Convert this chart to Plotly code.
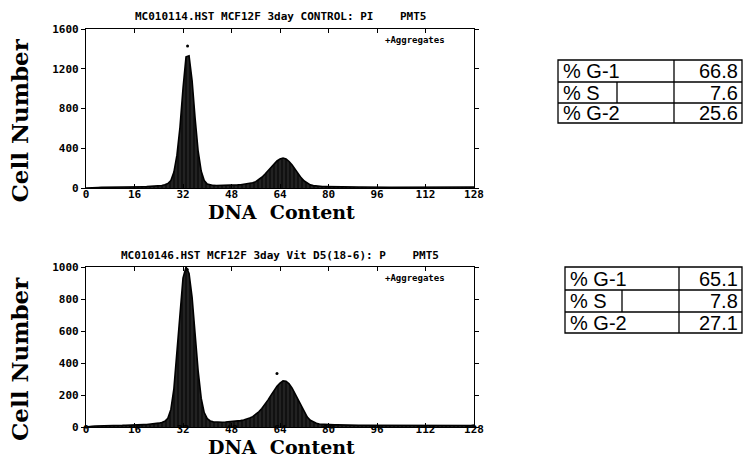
import plotly.graph_objects as go

# ---------------- data ----------------
channels = list(range(0, 129))

counts_control = [
    0, 3, 4, 5, 5, 6, 6, 7, 7, 8,
    8, 8, 9, 9, 10, 10, 11, 11, 12, 13,
    14, 15, 16, 18, 21, 25, 32, 45, 75, 160,
    330, 610, 1000, 1320, 1330, 1080, 700, 370, 170, 75,
    40, 30, 26, 25, 25, 25, 26, 27, 28, 29,
    31, 33, 36, 40, 45, 52, 64, 82, 108, 138,
    172, 207, 242, 272, 292, 302, 292, 267, 232, 187,
    142, 102, 70, 47, 32, 24, 19, 16, 15, 14,
    13, 13, 12, 12, 12, 11, 11, 11, 10, 10,
    10, 10, 9, 9, 9, 9, 9, 8, 8, 8,
    8, 8, 8, 8, 7, 7, 7, 7, 7, 7,
    7, 7, 6, 6, 6, 6, 6, 6, 6, 6,
    6, 6, 6, 6, 6, 6, 6, 8, 10,
]

counts_vitd = [
    0, 4, 5, 6, 6, 7, 7, 8, 8, 9,
    9, 10, 10, 11, 11, 12, 12, 13, 14, 15,
    16, 17, 19, 21, 24, 28, 36, 55, 110, 240,
    470, 740, 930, 1000, 960, 810, 580, 350, 180, 90,
    52, 38, 32, 30, 30, 30, 31, 32, 33, 35,
    37, 40, 44, 49, 56, 65, 78, 95, 116, 140,
    168, 198, 228, 254, 274, 288, 286, 270, 243, 207,
    166, 125, 90, 62, 42, 30, 23, 19, 17, 15,
    14, 14, 13, 13, 12, 12, 12, 11, 11, 11,
    10, 10, 10, 10, 10, 9, 9, 9, 9, 9,
    9, 8, 8, 8, 8, 8, 8, 8, 8, 8,
    7, 7, 7, 7, 7, 7, 7, 7, 7, 7,
    7, 7, 7, 7, 7, 7, 7, 9, 12,
]

outlier_x_control = [33.5]
outlier_y_control = [1430]
outlier_x_vitd = [33.4, 63.0]
outlier_y_vitd = [985, 335]

x_ticks = [0, 16, 32, 48, 64, 80, 96, 112, 128]
y_ticks_control = [0, 400, 800, 1200, 1600]
y_ticks_vitd = [0, 200, 400, 600, 800, 1000]

title_control = "MC010114.HST MCF12F 3day CONTROL: PI    PMT5"
title_vitd = "MC010146.HST MCF12F 3day Vit D5(18-6): P    PMT5"

phase_labels = ["% G-1", "% S", "% G-2"]
phase_control = ["66.8", "7.6", "25.6"]
phase_vitd = ["65.1", "7.8", "27.1"]

# ---------------- layout helpers ----------------
W, H = 744, 459


def px(x):
    return x / W


def py(y):
    return 1 - y / H


fig = go.Figure()

mono = "DejaVu Sans Mono"
serif = "DejaVu Serif"

for counts, ox, oy, xa, ya in [
    (counts_control, outlier_x_control, outlier_y_control, "x", "y"),
    (counts_vitd, outlier_x_vitd, outlier_y_vitd, "x2", "y2"),
]:
    fig.add_trace(go.Scatter(
        x=channels, y=counts, xaxis=xa, yaxis=ya,
        mode="lines", line=dict(color="black", width=1.6),
        fill="tozeroy", fillcolor="#111111",
        fillpattern=dict(shape="|", fgcolor="#9a9a9a", bgcolor="#111111",
                         size=4, solidity=0.12),
        showlegend=False, hoverinfo="skip",
    ))
    fig.add_trace(go.Scatter(
        x=ox, y=oy, xaxis=xa, yaxis=ya, mode="markers",
        marker=dict(color="black", size=3), showlegend=False,
    ))

axis_common = dict(
    showgrid=False, zeroline=False, showline=True, linecolor="black",
    linewidth=1.2, mirror="ticks", ticklen=4,
    tickcolor="black", tickwidth=1, automargin=False,
    tickfont=dict(family=mono, size=11, color="black", weight="bold"),
)

x_dom = [px(86), px(474)]
fig.update_layout(
    width=W, height=H,
    margin=dict(l=0, r=0, t=0, b=0, autoexpand=False),
    paper_bgcolor="white", plot_bgcolor="white",
    xaxis=dict(domain=x_dom, range=[0, 128], tickvals=x_ticks, anchor="y",
               ticks="inside", ticklabelstandoff=-4, **axis_common),
    yaxis=dict(domain=[py(188), py(29)], range=[0, 1600],
               tickvals=y_ticks_control, anchor="x", ticks="outside",
               **axis_common),
    xaxis2=dict(domain=x_dom, range=[0, 128], tickvals=x_ticks, anchor="y2",
                ticks="inside", ticklabelstandoff=-8, **axis_common),
    yaxis2=dict(domain=[py(427), py(267)], range=[0, 1000],
                tickvals=y_ticks_vitd, anchor="x2", ticks="outside",
                **axis_common),
)

annotations = []
shapes = []

# chart titles, axis titles, aggregates label
for title, ty, axtop, axbot, xt_bottom in [
    (title_control, 17, 29, 188, 224),
    (title_vitd, 255, 267, 427, 459),
]:
    annotations.append(dict(
        text=title, x=px(280), y=py(ty), xref="paper", yref="paper",
        showarrow=False, xanchor="center", yanchor="middle",
        font=dict(family=mono, size=11, color="black", weight="bold"),
    ))
    annotations.append(dict(
        text="+Aggregates", x=px(447), y=py(axtop + 11), xref="paper",
        yref="paper", showarrow=False, xanchor="right", yanchor="middle",
        font=dict(family=mono, size=9, color="black", weight="bold"),
    ))
    annotations.append(dict(
        text="Cell Number", x=px(19), y=py((axtop + axbot) / 2 + 12),
        xref="paper", yref="paper", showarrow=False, textangle=-90,
        xanchor="center", yanchor="middle",
        font=dict(family=serif, size=23, color="black", weight="bold"),
    ))
    annotations.append(dict(
        text="DNA  Content", x=px(281), y=py(xt_bottom),
        xref="paper", yref="paper", showarrow=False,
        xanchor="center", yanchor="bottom", borderpad=0,
        font=dict(family=serif, size=19, color="black", weight="bold"),
    ))

# tables
table_font = dict(family="Liberation Sans", size=20, color="black")
for labels, values, left, top, rows, coldiv, sdiv in [
    (phase_labels, phase_control, 558, 60, [60, 82, 103, 123], 674, 617),
    (phase_labels, phase_vitd, 565, 267, [267, 290, 312, 333], 679, 622),
]:
    right = 742
    line = dict(color="black", width=1.3)
    shapes.append(dict(type="rect", xref="paper", yref="paper",
                       x0=px(left), x1=px(right), y0=py(rows[-1]), y1=py(rows[0]),
                       line=line))
    for r in rows[1:-1]:
        shapes.append(dict(type="line", xref="paper", yref="paper",
                           x0=px(left), x1=px(right), y0=py(r), y1=py(r), line=line))
    shapes.append(dict(type="line", xref="paper", yref="paper",
                       x0=px(coldiv), x1=px(coldiv), y0=py(rows[-1]), y1=py(rows[0]),
                       line=line))
    shapes.append(dict(type="line", xref="paper", yref="paper",
                       x0=px(sdiv), x1=px(sdiv), y0=py(rows[2]), y1=py(rows[1]),
                       line=line))
    for i, (lab, val) in enumerate(zip(labels, values)):
        yc = (rows[i] + rows[i + 1]) / 2
        annotations.append(dict(text=lab, x=px(left + 4), y=py(yc), xref="paper",
                                yref="paper", showarrow=False, xanchor="left",
                                yanchor="middle", borderpad=0, font=table_font))
        annotations.append(dict(text=val, x=px(right - 3), y=py(yc), xref="paper",
                                yref="paper", showarrow=False, xanchor="right",
                                yanchor="middle", borderpad=0, font=table_font))

fig.update_layout(annotations=annotations, shapes=shapes)

fig.write_html(
    "out.html",
    config={"displayModeBar": False},
    post_script="document.body.style.margin='0px';document.body.style.overflow='hidden';",
)
